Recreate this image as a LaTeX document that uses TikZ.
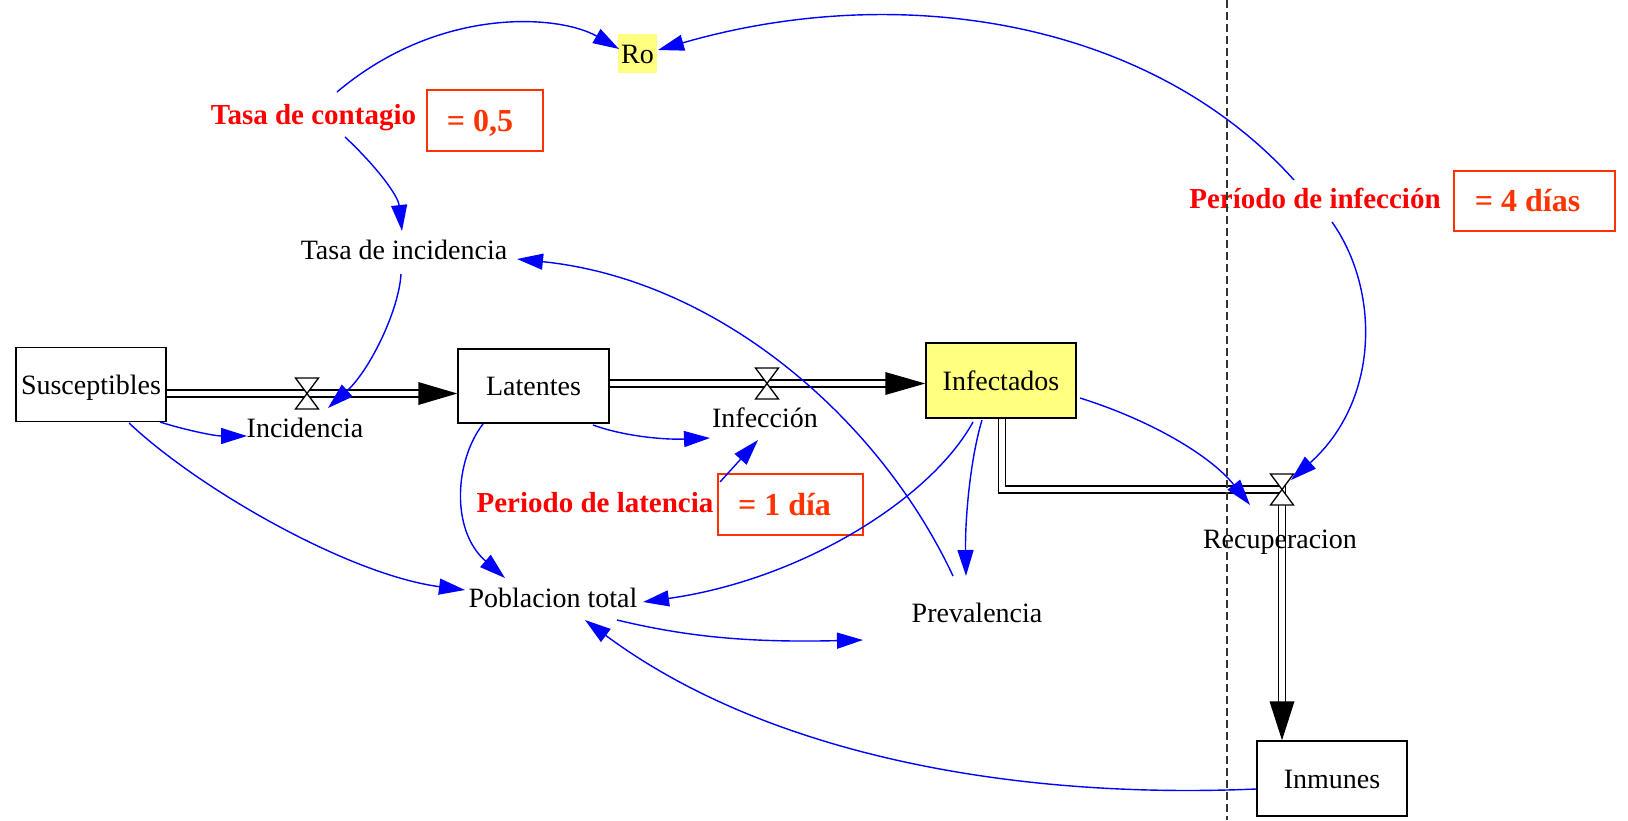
\documentclass[tikz,border=0pt]{standalone}
\usepackage{fontspec}
\setmainfont{Liberation Serif}
\usetikzlibrary{arrows.meta,calc}
\definecolor{blueArr}{HTML}{0000FF}
\definecolor{redLab}{HTML}{FF0000}
\definecolor{orangeVal}{HTML}{FF3300}
\definecolor{yellowFill}{HTML}{FFFF80}
\begin{document}
\begin{tikzpicture}[x=1pt,y=-1pt,
 lbl/.style={font=\fontsize{28}{30}\selectfont, inner sep=0pt, text height=19pt, text depth=0pt},
 stock/.style={draw, line width=1.4pt, minimum width=150pt, minimum height=74pt, inner sep=0pt,
   font=\fontsize{28}{30}\selectfont, text height=19pt, text depth=0pt},
 param/.style={text=redLab, font=\fontsize{29}{32}\selectfont\bfseries, inner sep=0pt, text height=19.5pt, text depth=0pt},
 valbox/.style={draw=orangeVal, line width=1.5pt, text=orangeVal, font=\fontsize{32}{36}\selectfont\bfseries,
   inner sep=0pt, text height=21pt, text depth=0pt},
 pipe/.style={draw=black, line width=1.4pt, double=white, double distance=5.6pt},
 infl/.style={draw=blueArr, line width=1.4pt, -{Triangle[length=26pt,width=16pt]}},
 valve/.pic={\draw[fill=white, line width=1.3pt] (-11.5,-15.5) -- (11.5,-15.5) -- (-11.5,15.5) -- (11.5,15.5) -- cycle;}
]
\useasboundingbox[fill=white] (0,0) rectangle (1628,820);

% stocks
\node[stock] (Sus) at (91,384.5) {Susceptibles};
\node[stock, minimum width=151pt] (Lat) at (533.5,386) {Latentes};
\node[stock, fill=yellowFill, minimum height=75pt] (Inf) at (1001,380.5) {Infectados};
\node[stock, minimum height=75pt] (Inm) at (1332,778.5) {Inmunes};
\node[lbl, fill=yellowFill, minimum width=39pt, minimum height=39pt] (Ro) at (637.5,53.5) {Ro};

% valves
\coordinate (V1) at (307,393.5);
\coordinate (V2) at (767,383.5);
\coordinate (V3) at (1282,489.5);

% pipes
\draw[pipe] (Sus.east |- V1) -- ($(Lat.west |- V1)+(-38,0)$);
\fill ($(Lat.west |- V1)+(-39,-11.5)$) -- (Lat.west |- V1) -- ($(Lat.west |- V1)+(-39,11.5)$) -- cycle;
\draw[pipe] (Lat.east |- V2) -- ($(Inf.west |- V2)+(-39,0)$);
\fill ($(Inf.west |- V2)+(-40,-11.5)$) -- (Inf.west |- V2) -- ($(Inf.west |- V2)+(-40,11.5)$) -- cycle;
\draw[pipe] ($(Inf.south)+(1,0)$) |- (V3) -- ($(V3 |- Inm.north)+(0,-38)$);
\fill ($(V3 |- Inm.north)+(-12.5,-39)$) -- (V3 |- Inm.north) -- ($(V3 |- Inm.north)+(12.5,-39)$) -- cycle;
\pic at (V1) {valve};
\pic at (V2) {valve};
\pic at (V3) {valve};

% labels
\node[lbl] (Incid) at (305,428) {Incidencia};
\node[lbl] (TI) at (404,250) {Tasa de incidencia};
\node[lbl] (Infec) at (765,418) {Infección};
\node[lbl] (PT) at (553,598) {Poblacion total};
\node[lbl] (Prev) at (977,613) {Prevalencia};
\node[lbl] (Recup) at (1280,539) {Recuperacion};
\node[param] (TC) at (313.5,115) {Tasa de contagio};
\node[valbox, minimum width=116pt, minimum height=61pt] (TCv) at (485,120.5) {= 0,5\kern10pt};
\node[param] (PL) at (595,503) {Periodo de latencia};
\node[valbox, minimum width=145pt, minimum height=61pt] (PLv) at (790.5,504.5) {= 1 día\kern12pt};
\node[param] (PI) at (1315,199) {Período de infección};
\node[valbox, minimum width=161pt, minimum height=60pt] (PIv) at (1534.5,201) {= 4 días\kern14pt};
\coordinate (PrevIn) at (863,640);

% information links
\draw[infl] ($(TC)+(23.5,-23)$) .. controls (440,5) and (560,15) .. ($(Ro)+(-18.5,-4.5)$);
\draw[infl] ($(TC)+(31.5,22)$) .. controls (375,165) and (398,195) .. ($(TI)+(-2,-19)$);
\draw[infl] ($(TI)+(-3,24)$) .. controls (399,310) and (370,370) .. ($(V1)+(21,14.5)$);
\draw[infl] ($(Sus)+(69,37.5)$) .. controls (185,430) and (215,436) .. ($(Incid)+(-58,8)$);
\draw[infl] ($(Sus)+(38,38.5)$) .. controls (200,490) and (350,575) .. ($(PT)+(-88,-8)$);
\draw[infl] ($(Lat)+(-50.5,38)$) .. controls (455,460) and (450,530) .. ($(PT)+(-48,-20)$);
\draw[infl] ($(Lat)+(59.5,39)$) .. controls (620,435) and (660,440) .. ($(Infec)+(-55,20)$);
\draw[infl] ($(PLv)+(-70.5,-22.5)$) -- ($(Infec)+(-7,22)$);
\draw[infl] ($(Prev)+(-24,-37)$) .. controls (880,420) and (720,280) .. ($(TI)+(113,9)$);
\draw[infl] ($(Inf)+(-28,41.5)$) .. controls (930,500) and (800,580) .. ($(PT)+(90,4)$);
\draw[infl] ($(Inf)+(-19,39.5)$) .. controls (970,460) and (965,520) .. ($(Prev)+(-11,-37)$);
\draw[infl] ($(Inf)+(79,17.5)$) .. controls (1150,420) and (1210,455) .. ($(V3)+(-32,15.5)$);
\draw[infl] ($(PI)+(17,23)$) .. controls (1380,290) and (1380,400) .. ($(V3)+(9,-9.5)$);
\draw[infl] ($(PI)+(-21,-19)$) .. controls (1150,20) and (900,-20) .. ($(Ro)+(20.5,-3.5)$);
\draw[infl] ($(PT)+(64,22)$) .. controls (680,635) and (740,643) .. (PrevIn);
\draw[infl] ($(Inm.west)+(0,10.5)$) .. controls (1000,800) and (760,750) .. ($(PT)+(32,22)$);

% dashed divider
\draw[dash pattern=on 8pt off 4pt, line width=1.5pt, black!80] (1227,0) -- (1227,820);
\end{tikzpicture}
\end{document}
